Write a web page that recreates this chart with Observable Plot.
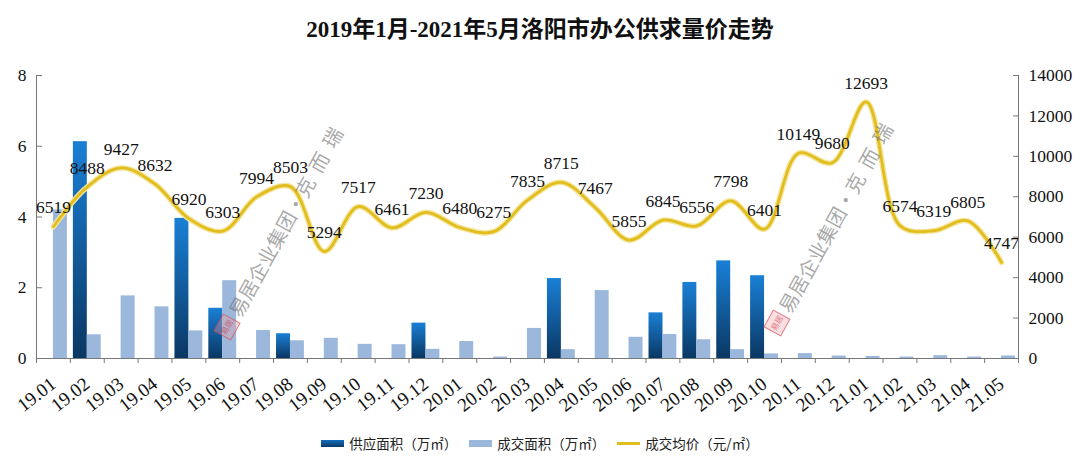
<!DOCTYPE html>
<html><head><meta charset="utf-8">
<script src="https://cdn.jsdelivr.net/npm/d3@7"></script>
<script src="https://cdn.jsdelivr.net/npm/@observablehq/plot@0.6"></script>
<style>
body{margin:0;background:#fff;width:1080px;height:466px;position:relative;overflow:hidden;}
#title{position:absolute;top:0;left:0;width:1080px;height:60px;line-height:60px;text-align:center;font-family:"Liberation Serif","Noto Sans CJK SC",serif;font-weight:bold;font-size:23px;color:#111;}
#chart{position:absolute;top:60px;left:0;}
#chart svg text, #chart svg tspan{font-family:"Liberation Serif","DejaVu Serif",serif !important;}
#legend{position:absolute;top:432px;left:0;width:1080px;height:22px;display:flex;justify-content:center;align-items:center;font-family:"Noto Sans CJK SC",sans-serif;font-size:13.5px;color:#222;padding-left:0;}
#legend .it{display:flex;align-items:center;margin:0 6px;}
#legend .sw{width:23px;height:7px;margin-right:5px;}
#legend .ln{width:23px;height:3px;margin-right:5px;background:#e3bd1f;}
.wm{position:absolute;transform-origin:10px 10px;transform:rotate(-61deg);white-space:nowrap;display:flex;align-items:center;font-family:"Noto Sans CJK SC",sans-serif;font-size:19.5px;color:rgba(110,110,110,0.6);line-height:20px;}
.wm .seal{width:18px;height:18px;border:1.5px solid rgba(210,60,70,0.6);background:rgba(240,160,170,0.35);margin-right:4px;font-size:8px;color:rgba(200,50,60,0.6);display:flex;align-items:center;justify-content:center;line-height:8px;}
</style></head>
<body>
<div id="title">2019年1月-2021年5月洛阳市办公供求量价走势</div>
<div id="chart"></div>
<div class="wm" style="left:217px;top:317px;"><span class="seal">易居</span>易居企业集团·克&nbsp;&nbsp;而&nbsp;&nbsp;瑞</div>
<div class="wm" style="left:767px;top:313px;"><span class="seal">易居</span>易居企业集团·克&nbsp;&nbsp;而&nbsp;&nbsp;瑞</div>
<div id="legend">
  <div class="it"><div class="sw" style="background:linear-gradient(#1470c0,#0b3a66)"></div>供应面积（万㎡）</div>
  <div class="it"><div class="sw" style="background:#9bb7db"></div>成交面积（万㎡）</div>
  <div class="it"><div class="ln"></div>成交均价（元/㎡）</div>
</div>
<script>
const months = ["19.01","19.02","19.03","19.04","19.05","19.06","19.07","19.08","19.09","19.10","19.11","19.12",
  "20.01","20.02","20.03","20.04","20.05","20.06","20.07","20.08","20.09","20.10","20.11","20.12",
  "21.01","21.02","21.03","21.04","21.05"];
const supply = [0,6.13,0,0,3.96,1.42,0,0.70,0,0,0,1.0,0,0,0,2.26,0,0,1.29,2.15,2.76,2.34,0,0,0,0,0,0,0];
const deal = [4.2,0.67,1.77,1.46,0.78,2.2,0.79,0.5,0.57,0.4,0.39,0.26,0.48,0.04,0.85,0.25,1.92,0.6,0.68,0.53,0.25,0.13,0.14,0.07,0.06,0.04,0.08,0.04,0.07];
const price = [6519,8488,9427,8632,6920,6303,7994,8503,5294,7517,6461,7230,6480,6275,7835,8715,7467,5855,6845,6556,7798,6401,10149,9680,12693,6574,6319,6805,4747];
const leftTicks = [0,2,4,6,8];
const rightTicks = [0,2000,4000,6000,8000,10000,12000,14000];

const K = 14000 / 8;
const rows = months.map((m, i) => ({i, m, supply: supply[i], deal: deal[i], price: price[i]}));

const defs = () => {
  const s = d3.create("svg:defs");
  const g = s.append("linearGradient").attr("id", "gSupply").attr("x1", 0).attr("y1", 0).attr("x2", 0).attr("y2", 1);
  g.append("stop").attr("offset", "0%").attr("stop-color", "#1a80d6");
  g.append("stop").attr("offset", "100%").attr("stop-color", "#0a3763");
  return s.node();
};

const chart = Plot.plot({
  width: 1080, height: 362,
  marginLeft: 36, marginRight: 62, marginTop: 15, marginBottom: 64,
  style: {fontFamily: "'Liberation Serif', serif", fontSize: "17px", color: "#111", background: "transparent"},
  x: {type: "linear", domain: [0, months.length], label: null},
  y: {domain: [0, 8], label: null},
  marks: [
    defs,
    Plot.rectY(rows.filter(d => d.supply > 0), {x1: d => d.i, x2: d => d.i + 1, y: "supply", insetLeft: 3, insetRight: 16.9, fill: "url(#gSupply)"}),
    Plot.rectY(rows, {x1: d => d.i, x2: d => d.i + 1, y: "deal", insetLeft: 16.9, insetRight: 3, fill: "#9bb7db"}),
    Plot.line(rows, {x: d => d.i + 0.5, y: d => d.price / K, curve: "catmull-rom", stroke: "#f4e59c", strokeWidth: 5.5}),
    Plot.line(rows, {x: d => d.i + 0.5, y: d => d.price / K, curve: "catmull-rom", stroke: "#e2bd1e", strokeWidth: 2.8}),
    Plot.text(rows, {x: d => d.i + 0.5, y: d => d.price / K, text: d => String(d.price), dy: -19, fontSize: 17.5, fill: "#111"}),
    Plot.ruleX([0, months.length], {stroke: "#777"}),
    Plot.ruleY([0], {stroke: "#777"}),
    Plot.axisY({anchor: "left", ticks: leftTicks, tickFormat: d => String(d), tickSize: -6, tickPadding: 16, stroke: "#777", fill: "#111", fontSize: 17.5}),
    Plot.axisY({anchor: "right", ticks: rightTicks.map(v => v / K), tickFormat: d => String(Math.round(d * K)), tickSize: -6, tickPadding: 16, stroke: "#777", fill: "#111", fontSize: 17.5}),
    Plot.axisX({ticks: d3.range(months.length + 1), tickFormat: () => "", tickSize: 5, stroke: "#777"}),
    Plot.axisX({ticks: months.map((m, i) => i + 0.5), tickFormat: d => months[Math.floor(d)], tickSize: 0, tickPadding: 23, tickRotate: -38, fill: "#111", fontSize: 19})
  ]
});
document.getElementById("chart").appendChild(chart);
</script>
</body></html>
